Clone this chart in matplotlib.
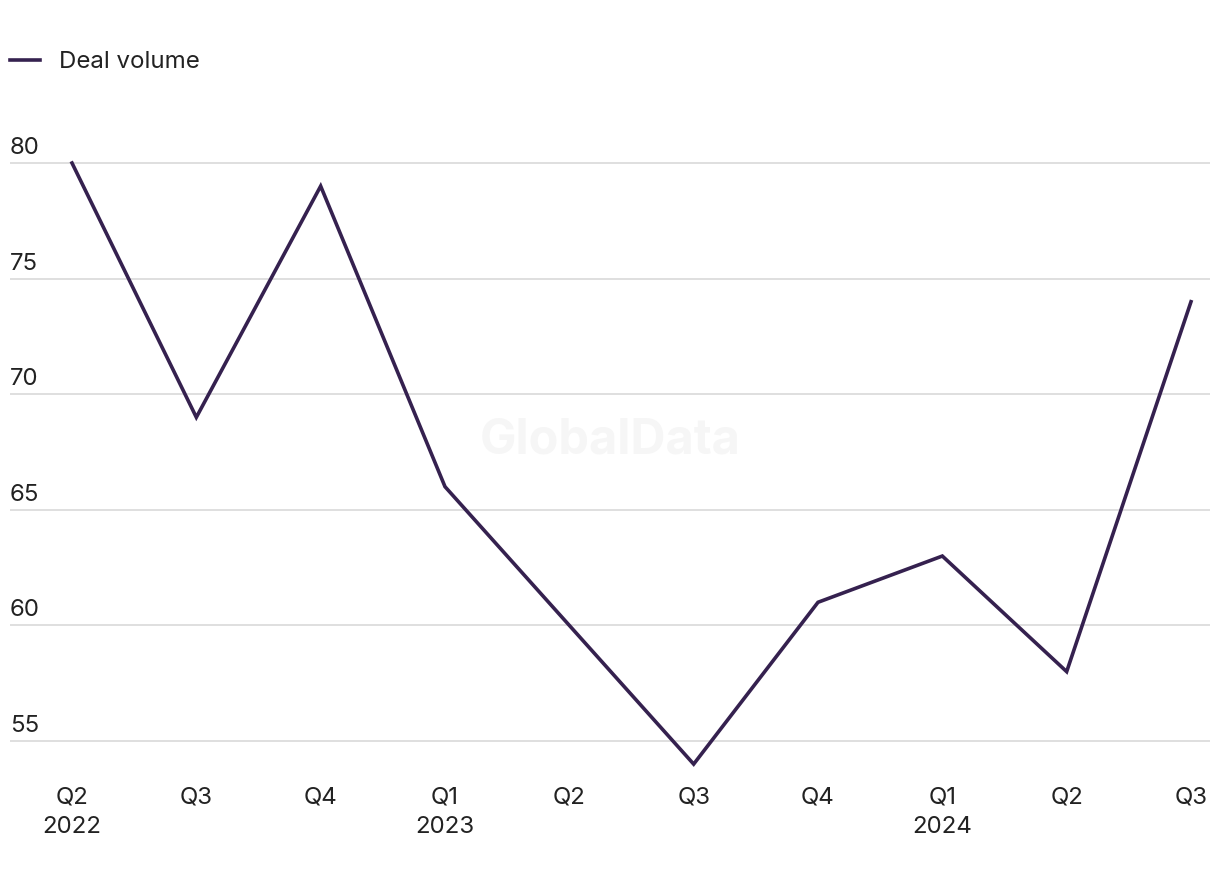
import matplotlib.pyplot as plt

plt.rcParams['font.family'] = ['Inter', 'DejaVu Sans']

quarters = ["Q2\n2022", "Q3", "Q4", "Q1\n2023", "Q2", "Q3", "Q4", "Q1\n2024", "Q2", "Q3"]
deal_volume = [80, 69, 79, 66, 60, 54, 61, 63, 58, 74]
y_ticks = [55, 60, 65, 70, 75, 80]

LINE_COLOR = "#35214f"
TEXT_COLOR = "#222222"
GRID_COLOR = "#d9d9d9"
FONT_SIZE = 17.3
W, H = 1220, 884

fig = plt.figure(figsize=(W / 100, H / 100), dpi=100)

# axes in pixel terms: gridlines from x=10 to x=1210, 80 at y=163, 55 at y=741
y_lo, y_hi = 53.5, 81
px_per_unit = (741 - 163) / 25
top_px = 163 - (y_hi - 80) * px_per_unit
bot_px = 741 + (55 - y_lo) * px_per_unit
ax = fig.add_axes([10 / W, 1 - bot_px / H, 1200 / W, (bot_px - top_px) / H])

x = list(range(len(quarters)))
step = (1191 - 72) / 9
ax.set_xlim(-62 / step, 9 + (1210 - 1191) / step)
ax.set_ylim(y_lo, y_hi)

ax.plot(x, deal_volume, color=LINE_COLOR, linewidth=2.6, label="Deal volume",
        solid_joinstyle='miter', zorder=3)

for v in y_ticks:
    ax.axhline(v, color=GRID_COLOR, linewidth=1.2, zorder=1)
    ax.text(0, v + 0.17, str(v), transform=ax.get_yaxis_transform(),
            ha='left', va='bottom', fontsize=FONT_SIZE, color=TEXT_COLOR)

ax.set_yticks([])
ax.set_xticks(x)
ax.set_xticklabels(quarters, fontsize=FONT_SIZE, color=TEXT_COLOR, linespacing=1.4)
ax.tick_params(axis='x', length=0, pad=8)
for s in ax.spines.values():
    s.set_visible(False)

ax.text(0.5, 1 - (441 - top_px) / (bot_px - top_px), "GlobalData", transform=ax.transAxes,
        ha='center', va='center', fontsize=35, fontweight='bold', color="#f6f6f6", zorder=0)

fig.legend(loc='center left', bbox_to_anchor=(10 / W, 1 - 62 / H), frameon=False,
           fontsize=FONT_SIZE, handlelength=1.25, handletextpad=0.8, borderpad=0,
           borderaxespad=0, labelcolor=TEXT_COLOR)

fig.savefig("out.png", dpi=100)
